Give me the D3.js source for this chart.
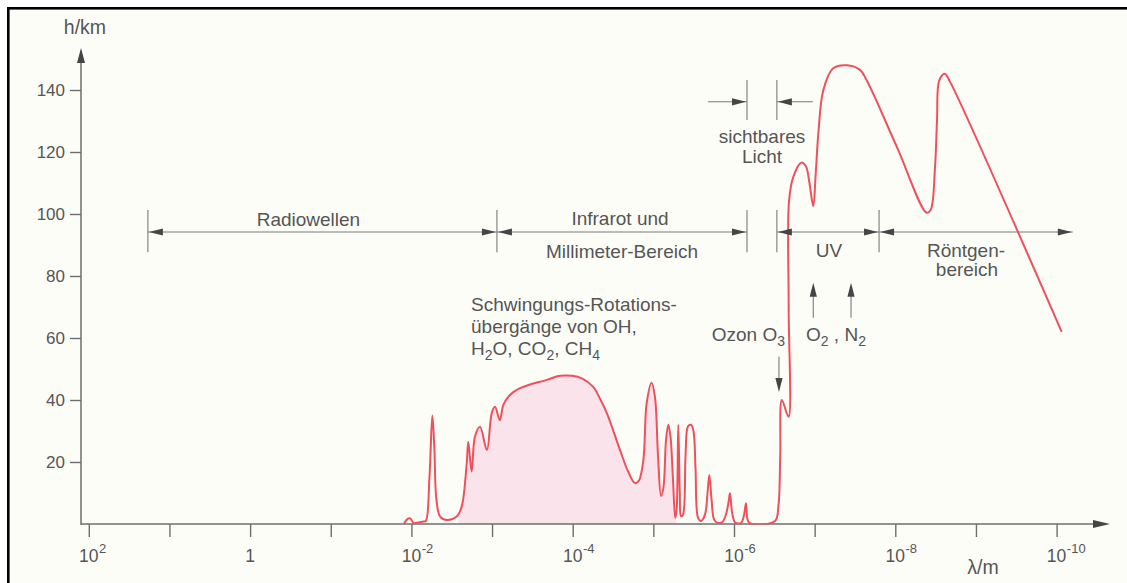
<!DOCTYPE html>
<html>
<head>
<meta charset="utf-8">
<script src="https://cdn.jsdelivr.net/npm/d3@7"></script>
<style>
  html, body { margin: 0; padding: 0; background: #ffffff; }
  svg { display: block; }
  text { font-family: "Liberation Sans", Arial, Helvetica, sans-serif; fill: #555; }
</style>
</head>
<body>
<svg id="chart" width="1127" height="583"></svg>
<script>
// Penetration depth of radiation into the atmosphere: altitude h (km) at which
// the incoming radiation of wavelength λ (m) is absorbed.
const wavelength = [
  1.24e-2, 1.13e-2, 1.04e-2, 9.3e-3, 8.3e-3, 7.0e-3, 6.6e-3, 5.97e-3, 5.5e-3, 5.2e-3,
  4.9e-3, 4.4e-3, 3.65e-3, 2.74e-3, 2.38e-3, 2.06e-3, 1.97e-3, 1.79e-3, 1.63e-3, 1.41e-3,
  1.16e-3, 1.01e-3, 9.2e-4, 8.0e-4, 7.25e-4, 6.0e-4, 4.5e-4, 2.1e-4, 1.44e-4, 1.02e-4,
  7.7e-5, 5.6e-5, 4.6e-5, 3.76e-5, 2.6e-5, 2.06e-5, 1.69e-5, 1.51e-5, 1.33e-5, 1.21e-5,
  1.05e-5, 9.55e-6, 8.75e-6, 8.03e-6, 7.48e-6, 6.97e-6, 6.53e-6, 6.12e-6, 5.70e-6, 5.35e-6,
  5.16e-6, 4.91e-6, 4.70e-6, 4.54e-6, 4.29e-6, 3.99e-6, 3.72e-6, 3.41e-6, 3.18e-6, 3.00e-6,
  2.79e-6, 2.56e-6, 2.29e-6, 2.13e-6, 2.02e-6, 1.9e-6, 1.77e-6, 1.63e-6, 1.41e-6, 1.26e-6,
  1.17e-6, 1.12e-6, 1.06e-6, 9.7e-7, 8.2e-7, 7.5e-7, 7.1e-7, 6.7e-7, 6.0e-7, 3.10e-7,
  2.81e-7, 2.67e-7, 2.55e-7, 2.11e-7, 2.10e-7, 2.08e-7, 1.84e-7, 1.45e-7, 1.28e-7, 1.16e-7,
  1.04e-7, 9.75e-8, 9.0e-8, 7.8e-8, 5.9e-8, 4.0e-8, 2.74e-8, 2.27e-8, 9.62e-9, 4.08e-9,
  3.64e-9, 3.22e-9, 3.04e-9, 2.84e-9, 2.42e-9, 2.10e-9, 8.65e-11
];
const altitude = [
  0, 1.5, 1.8, 0.3, 0.5, 0.8, 1, 15, 35, 25,
  8, 2.4, 1.3, 2.4, 5.6, 19.6, 26.5, 16.9, 28.2, 31.4,
  23.9, 35.7, 37.8, 33.5, 38.4, 41.6, 43.8, 46.5, 47.8, 47.8,
  47, 44.3, 40.5, 35.7, 24, 17, 13.2, 14, 20.6, 39,
  45.6, 41, 22, 9, 12, 27, 32, 28, 14, 2,
  4, 32, 10, 2.5, 3, 22, 31.5, 32, 30, 18,
  2, 1, 3, 10, 15.8, 8, 1.5, 0.5, 0.5, 3,
  7, 9.9, 4, 0.5, 0.3, 3, 6.7, 1, 0, 1,
  6, 22, 40, 34.6, 70, 104, 112, 116.6, 115.3, 110,
  102.5, 112, 126, 140, 147, 148, 146.5, 143.2, 121.8, 100.4,
  101.3, 115, 130, 143.2, 145.2, 142.7, 62
];

// Range of the shaded molecular absorption band (vibration-rotation transitions)
const shadedBand = [2.6e-3, 5.2e-6];

// Axis ticks
const altitudeTicks = [20, 40, 60, 80, 100, 120, 140];
const decadeTicks = [1e2, 1e1, 1e0, 1e-1, 1e-2, 1e-3, 1e-4, 1e-5, 1e-6, 1e-7, 1e-8, 1e-9, 1e-10];
const labelledExponents = [2, 0, -2, -4, -6, -8, -10];

// Spectral regions (boundaries in m)
const regionEdges = [18.5, 8.7e-4, 6.9e-7, 2.94e-7, 1.59e-8, 6.3e-11];

// Absorber markers (wavelength in m)
const ozoneMarker = 2.77e-7;
const oxygenMarker = 1.04e-7;
const nitrogenMarker = 3.54e-8;

const points = wavelength.map((w, i) => ({ w, h: altitude[i] }));

const svg = d3.select("#chart");
const W = 1127, H = 583;

// page background and frame
svg.append("rect").attr("x", 0).attr("y", 0).attr("width", W).attr("height", H).attr("fill", "#ffffff");
svg.append("rect").attr("x", 9).attr("y", 9).attr("width", W - 9).attr("height", H - 9).attr("fill", "#fdfdf8");
svg.append("rect").attr("x", 7).attr("y", 7).attr("width", W - 7).attr("height", 2.6).attr("fill", "#000");
svg.append("rect").attr("x", 7).attr("y", 7).attr("width", 2.6).attr("height", H - 7).attr("fill", "#000");

const x = d3.scaleLog().domain([1e2, 1e-10]).range([88.8, 1056.6]);
const y = d3.scaleLinear().domain([0, 140]).range([524, 90]);

const axisColor = "#6e6e6e";
const headColor = "#454545";

function arrowHead(g, tx, ty, dir, len = 14, half = 3.6) {
  // dir: "left" | "right" | "up" | "down"; tip at (tx, ty)
  let p;
  if (dir === "right") p = [[tx, ty], [tx - len, ty - half], [tx - len, ty + half]];
  else if (dir === "left") p = [[tx, ty], [tx + len, ty - half], [tx + len, ty + half]];
  else if (dir === "up") p = [[tx, ty], [tx - half, ty + len], [tx + half, ty + len]];
  else p = [[tx, ty], [tx - half, ty - len], [tx + half, ty - len]];
  g.append("path").attr("d", "M" + p.map(q => q.join(",")).join("L") + "Z").attr("fill", headColor);
}

// shaded absorption band under the curve
const clipId = "bandClip";
svg.append("clipPath").attr("id", clipId)
  .append("rect")
  .attr("x", x(shadedBand[0])).attr("y", 0)
  .attr("width", x(shadedBand[1]) - x(shadedBand[0]))
  .attr("height", y(0));

const curve = d3.curveCatmullRom.alpha(0.5);
const area = d3.area().x(d => x(d.w)).y0(y(0)).y1(d => y(d.h)).curve(curve);
svg.append("path").datum(points)
  .attr("d", area)
  .attr("fill", "#fbe3eb")
  .attr("clip-path", `url(#${clipId})`);

// axes
const yAxisG = svg.append("g").attr("transform", `translate(81,0)`)
  .call(d3.axisLeft(y).tickValues(altitudeTicks).tickSize(11).tickPadding(5));
yAxisG.select(".domain").remove();
yAxisG.selectAll(".tick line").attr("stroke", axisColor).attr("stroke-width", 1.4);
yAxisG.selectAll(".tick text").attr("font-size", 17).attr("fill", "#555")
  .attr("font-family", "Liberation Sans, Arial, sans-serif");

const xAxisG = svg.append("g").attr("transform", `translate(0,${y(0)})`)
  .call(d3.axisBottom(x).tickValues(decadeTicks).tickSize(13).tickFormat(""));
xAxisG.select(".domain").remove();
xAxisG.selectAll(".tick line").attr("stroke", axisColor).attr("stroke-width", 1.4);

// axis lines with arrows
svg.append("line").attr("x1", 81).attr("x2", 81).attr("y1", y(0) + 1).attr("y2", 56)
  .attr("stroke", axisColor).attr("stroke-width", 1.5);
arrowHead(svg, 81, 48, "up", 15, 4);
svg.append("line").attr("x1", 81).attr("x2", 1100).attr("y1", y(0)).attr("y2", y(0))
  .attr("stroke", axisColor).attr("stroke-width", 1.5);
arrowHead(svg, 1110, y(0), "right", 17, 4);

// x tick labels: powers of ten
labelledExponents.forEach(e => {
  const tx = x(Math.pow(10, e));
  if (e === 0) {
    svg.append("text").attr("x", tx).attr("y", 562).attr("text-anchor", "middle")
      .attr("font-size", 17.5).text("1");
    return;
  }
  const base = svg.append("text").attr("x", tx).attr("y", 562).attr("text-anchor", "middle")
    .attr("font-size", 17.5).text("10");
  const w = base.node().getComputedTextLength();
  svg.append("text").attr("x", tx + w / 2 + 0.5).attr("y", 553).attr("font-size", 13)
    .text(e > 0 ? String(e) : "-" + String(-e));
});

// axis titles
svg.append("text").attr("x", 85).attr("y", 34).attr("text-anchor", "middle").attr("font-size", 19.5).text("h/km");
svg.append("text").attr("x", 983).attr("y", 574).attr("text-anchor", "middle").attr("font-size", 19.5).text("λ/m");

// penetration curve
svg.append("clipPath").attr("id", "plotClip")
  .append("rect").attr("x", 82).attr("y", 0).attr("width", 1040).attr("height", y(0) + 0.5);
const line = d3.line().x(d => x(d.w)).y(d => y(d.h)).curve(curve);
svg.append("path").datum(points)
  .attr("d", line)
  .attr("fill", "none")
  .attr("stroke", "#ef505c")
  .attr("stroke-width", 2)
  .attr("stroke-linejoin", "round")
  .attr("clip-path", "url(#plotClip)");

// spectral region brackets
const ann = svg.append("g");
const bracketY = y(94.2), divTop = y(101.3), divBot = y(87.7);
const xe = regionEdges.map(x);
const thin = sel => sel.attr("stroke", "#7a7a7a").attr("stroke-width", 1.1);

// dividers
[0, 1, 2, 3, 4].forEach(i => {
  ann.append("line").attr("x1", xe[i]).attr("x2", xe[i]).attr("y1", divTop).attr("y2", divBot).call(thin);
});
// double arrows for each region
[[0, 1], [1, 2], [3, 4], [4, 5]].forEach(([a, b]) => {
  ann.append("line").attr("x1", xe[a]).attr("x2", xe[b]).attr("y1", bracketY).attr("y2", bracketY).call(thin);
  arrowHead(ann, xe[a] + 1, bracketY, "left");
  arrowHead(ann, xe[b] - 1, bracketY, "right");
});

// visible light marker
const visTop = y(143.2), visBot = y(130.3), visY = y(136.2);
[2, 3].forEach(i => {
  ann.append("line").attr("x1", xe[i]).attr("x2", xe[i]).attr("y1", visTop).attr("y2", visBot).call(thin);
});
ann.append("line").attr("x1", xe[2] - 39).attr("x2", xe[2]).attr("y1", visY).attr("y2", visY).call(thin);
arrowHead(ann, xe[2] - 1, visY, "right");
ann.append("line").attr("x1", xe[3]).attr("x2", xe[3] + 36).attr("y1", visY).attr("y2", visY).call(thin);
arrowHead(ann, xe[3] + 1, visY, "left");

// absorber arrows
const xo = x(ozoneMarker);
ann.append("line").attr("x1", xo).attr("x2", xo).attr("y1", y(54)).attr("y2", y(44)).call(thin);
arrowHead(ann, xo, y(42.6), "down");
[oxygenMarker, nitrogenMarker].forEach(m => {
  const xm = x(m);
  ann.append("line").attr("x1", xm).attr("x2", xm).attr("y1", y(66.5)).attr("y2", y(75)).call(thin);
  arrowHead(ann, xm, y(77.8), "up");
});

// labels
const fs = 19;
function label(tx, ty, anchor, parts) {
  const t = svg.append("text").attr("x", tx).attr("y", ty).attr("text-anchor", anchor).attr("font-size", fs);
  let shift = 0;
  parts.forEach(p => {
    if (typeof p === "string") {
      t.append("tspan").attr("dy", -shift).text(p);
      shift = 0;
    } else {
      t.append("tspan").attr("dy", 5 - shift).attr("font-size", 14).text(p.sub);
      shift = 5;
    }
  });
  return t;
}

label((xe[0] + xe[1]) / 2 - 14, 225.5, "middle", ["Radiowellen"]);
label(620, 224.5, "middle", ["Infrarot und"]);
label(622, 258, "middle", ["Millimeter-Bereich"]);
label(829, 256.5, "middle", ["UV"]);
label(966, 256.5, "middle", ["Röntgen-"]);
label(967, 276, "middle", ["bereich"]);
label(762, 143, "middle", ["sichtbares"]);
label(762, 162.5, "middle", ["Licht"]);
label(471, 311, "start", ["Schwingungs-Rotations-"]);
label(471, 333, "start", ["übergänge von OH,"]);
label(471, 355, "start", ["H", { sub: "2" }, "O, CO", { sub: "2" }, ", CH", { sub: "4" }]);
label(785, 341, "end", ["Ozon O", { sub: "3" }]);
label(806, 341, "start", ["O", { sub: "2" }, " , N", { sub: "2" }]);
</script>
</body>
</html>
